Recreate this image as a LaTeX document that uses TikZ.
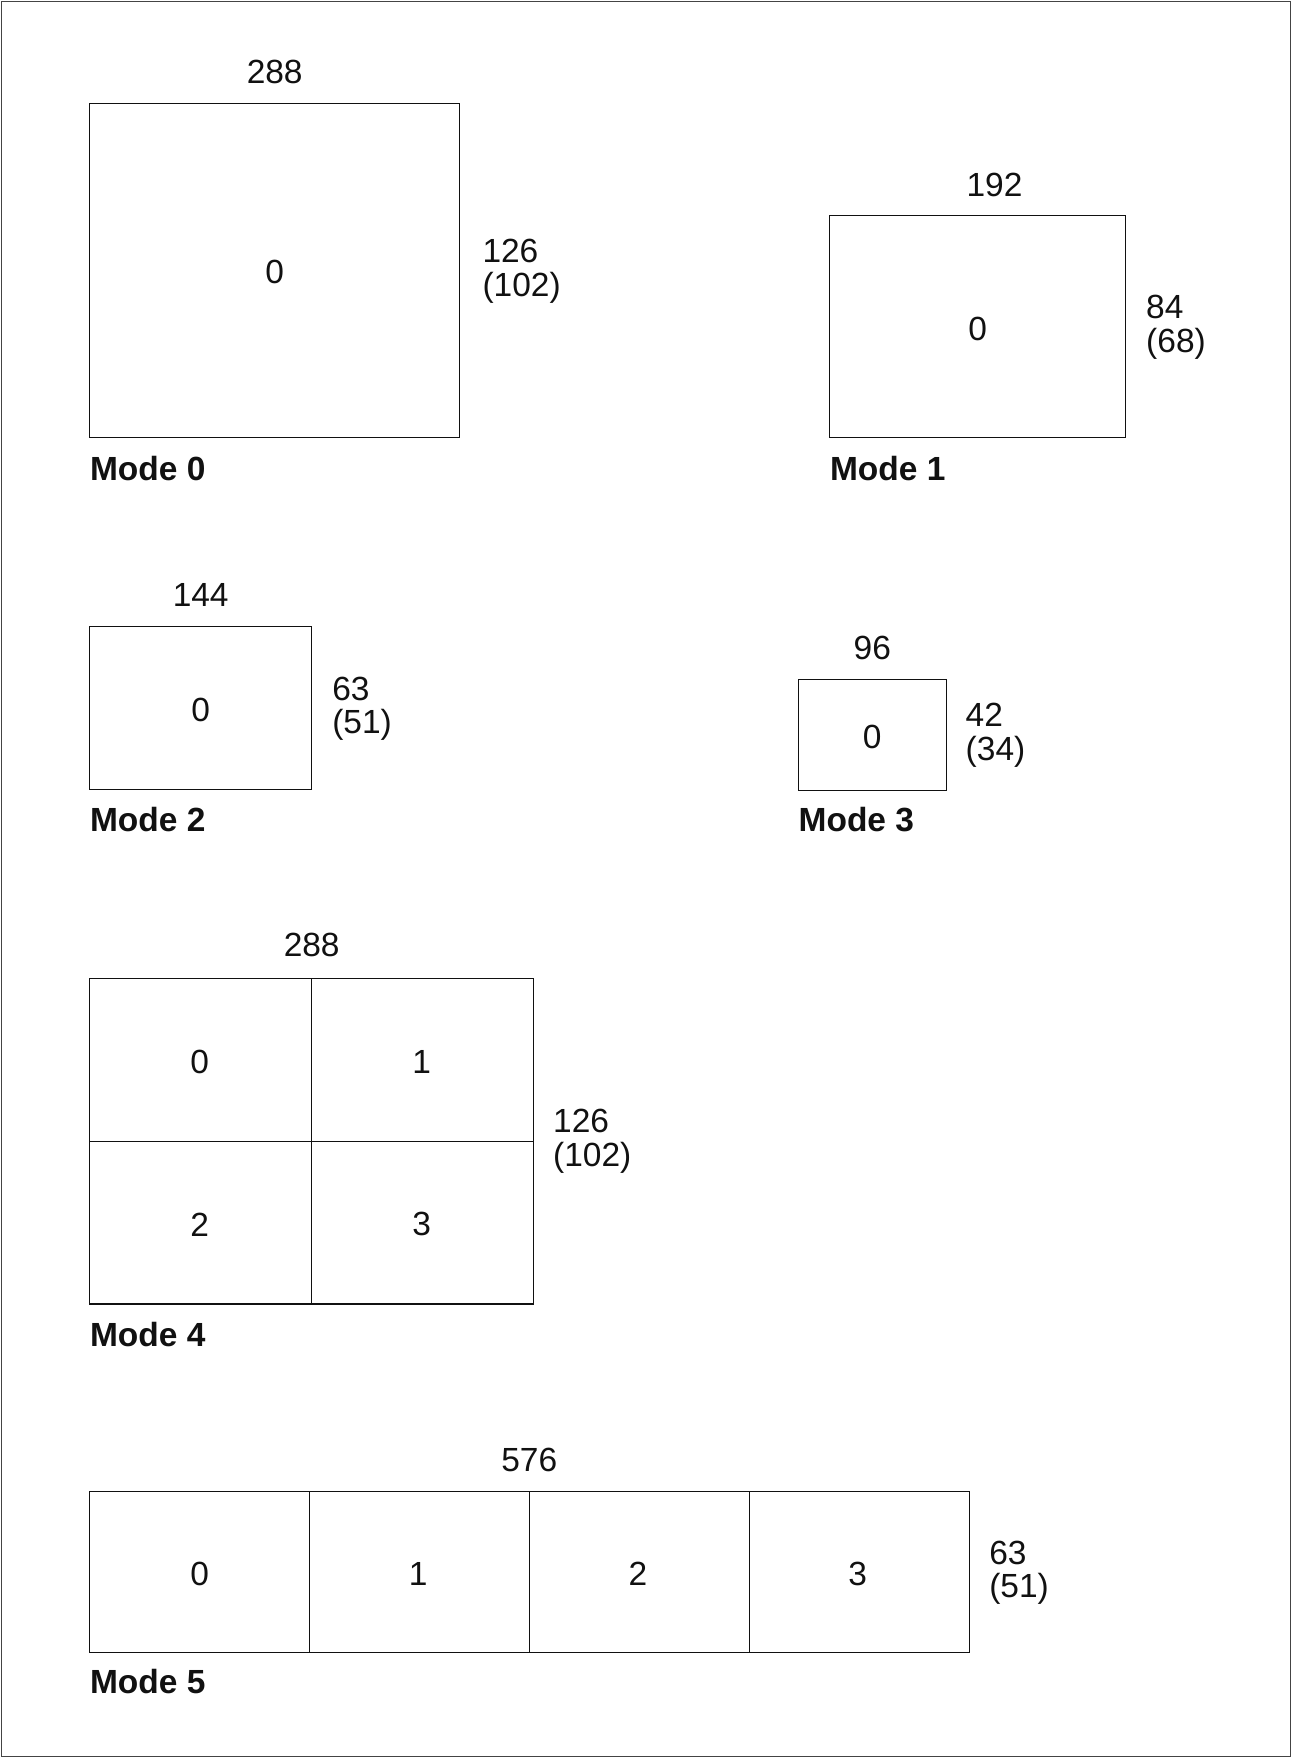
\documentclass[tikz,border=0pt]{standalone}
\usepackage{fontspec}
\setmainfont{Liberation Sans}
\usepackage{tikz}
\usetikzlibrary{calc,positioning}
\definecolor{modeink}{HTML}{111111}
\definecolor{modeframe}{HTML}{444444}
\newcommand\dimfont{\fontsize{17}{17}\selectfont}

\begin{document}
\begin{tikzpicture}[x=0.02cm,y=-0.02cm,line cap=rect,line join=miter,
  text=modeink,font=\dimfont,
  cell/.style={draw=modeink,line width=.65pt,inner sep=0pt,outer sep=0pt},
  dim/.style={inner sep=0pt,align=left,anchor=west},
  top/.style={inner sep=0pt},
  title/.style={inner sep=0pt,anchor=west,font=\dimfont\bfseries}]
\useasboundingbox (0,0) rectangle (1152,1568);
\fill[white] (0,0) rectangle (1152,1568);
\draw[modeframe,line width=.6pt] (1,1) rectangle (1151,1567);

% Mode 0
\node[cell,minimum width=6.6cm,minimum height=5.96cm] (m0) at (245,241) {};
\node (m0n) at (245,243) {0};
\node[top] (m0w) at (245,64) {288};
\node[dim] (m0h) at (430,242) {126\\(102)};
\node[title] (m0t) at (80,418) {Mode 0};

% Mode 1
\node[cell,minimum width=5.28cm,minimum height=3.96cm] (m1) at (872,291) {};
\node (m1n) at (872,293) {0};
\node[top] (m1w) at (887,165) {192};
\node[dim] (m1h) at (1022,292) {84\\(68)};
\node[title] (m1t) at (740,418) {Mode 1};

% Mode 2
\node[cell,minimum width=3.96cm,minimum height=2.9cm] (m2) at (179,631.5) {};
\node (m2n) at (179,633) {0};
\node[top] (m2w) at (179,531) {144};
\node[dim] (m2h) at (296,632) {63\\(51)};
\node[title] (m2t) at (80,731) {Mode 2};

% Mode 3
\node[cell,minimum width=2.64cm,minimum height=1.98cm] (m3) at (778,655.5) {};
\node (m3n) at (778,657) {0};
\node[top] (m3w) at (778,578) {96};
\node[dim] (m3h) at (861,656) {42\\(34)};
\node[title] (m3t) at (712,731) {Mode 3};

% Mode 4: vier Teilbilder
\foreach \n/\cx/\cy in {0/179/945.5,1/377/945.5,2/179/1090.5,3/377/1090.5}
  \node[cell,minimum width=3.96cm,minimum height=2.9cm] (m4c\n) at (\cx,\cy) {};
\foreach \n/\cx/\cy in {0/178/947,1/376/947,2/178/1092,3/376/1092}
  \node (m4n\n) at (\cx,\cy) {\n};
\node[top] (m4w) at (278,843) {288};
\node[dim] (m4h) at (493,1018) {126\\(102)};
\node[title] (m4t) at (80,1190) {Mode 4};

% Mode 5: vier Teilbilder nebeneinander
\foreach \n/\cx in {0/178.1,1/374.4,2/570.6,3/766.9}
  \node[cell,minimum width=3.925cm,minimum height=2.88cm] (m5c\n) at (\cx,1402) {};
\foreach \n/\cx in {0/178,1/373,2/569,3/765}
  \node (m5n\n) at (\cx,1404) {\n};
\node[top] (m5w) at (472,1302) {576};
\node[dim] (m5h) at (882,1403) {63\\(51)};
\node[title] (m5t) at (80,1500) {Mode 5};
\end{tikzpicture}
\end{document}
